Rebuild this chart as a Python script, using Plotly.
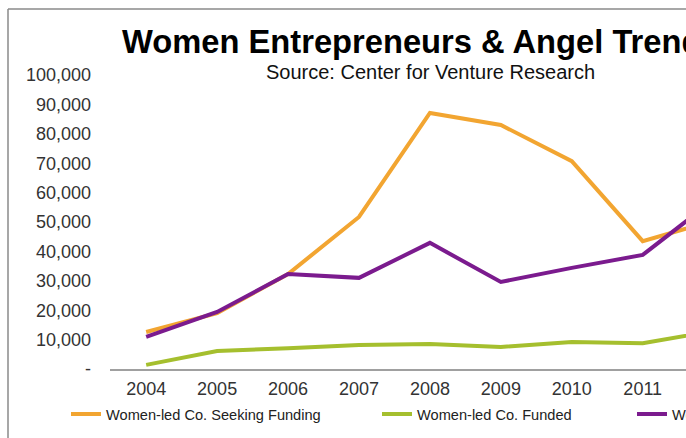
import plotly.graph_objects as go

years = [2004, 2005, 2006, 2007, 2008, 2009, 2010, 2011, 2012]
seeking = [12600, 19000, 32300, 51700, 87100, 83000, 70700, 43500, 50500]
funded = [1400, 6100, 7100, 8200, 8500, 7500, 9200, 8800, 12900]
angels = [10900, 19400, 32300, 31000, 42900, 29600, 34400, 38800, 57500]

y_ticks = [0, 10000, 20000, 30000, 40000, 50000, 60000, 70000, 80000, 90000, 100000]
y_ticktext = ["-", "10,000", "20,000", "30,000", "40,000", "50,000",
              "60,000", "70,000", "80,000", "90,000", "100,000"]

names = ["Women-led Co. Seeking Funding", "Women-led Co. Funded", "Women Angels"]
colors = ["#F2A531", "#A5BF2E", "#7B1B8E"]

W, H = 686, 438
L, R, T, B = 110, 0, 75, 69
pw, ph = W - L - R, H - T - B

def px(x):
    return (x - L) / pw

def py(y):
    return (H - B - y) / ph

fig = go.Figure()
series = [seeking, funded, angels]
legend_ids = ["legend", "legend2", "legend3"]
for s, n, c, lg in zip(series, names, colors, legend_ids):
    fig.add_trace(go.Scatter(x=years, y=s, name=n, mode="lines",
                             line=dict(color=c, width=4), legend=lg))

font_family = "Arial, Liberation Sans, sans-serif"
leg_common = dict(orientation="h", xanchor="left", yanchor="middle",
                  bgcolor="rgba(0,0,0,0)", font=dict(size=14.6, color="#222", family=font_family))
fig.update_layout(
    width=W, height=H,
    margin=dict(l=L, r=R, t=T, b=B, autoexpand=False),
    paper_bgcolor="white", plot_bgcolor="white",
    font=dict(family=font_family),
    showlegend=True,
    legend=dict(x=px(66), y=py(414), **leg_common),
    legend2=dict(x=px(377), y=py(414), **leg_common),
    legend3=dict(x=px(632), y=py(414), **leg_common),
    xaxis=dict(range=[2003.49, 2011.61], tickvals=years, ticktext=[str(y) for y in years],
               showline=True, linecolor="#A0A0A0", linewidth=1.5, showgrid=False,
               zeroline=False, ticks="", ticklabelstandoff=3,
               tickfont=dict(size=18, color="#333", family=font_family)),
    yaxis=dict(range=[0, 100000], tickvals=y_ticks, ticktext=y_ticktext,
               showline=False, showgrid=False, zeroline=False, ticks="",
               ticklabelstandoff=18,
               tickfont=dict(size=18, color="#333", family=font_family)),
    annotations=[
        dict(text="<b>Women Entrepreneurs & Angel Trends</b>", xref="paper", yref="paper",
             x=px(120), y=py(41), xanchor="left", yanchor="middle", showarrow=False,
             font=dict(size=32.7, color="#000", family=font_family)),
        dict(text="Source: Center for Venture Research", xref="paper", yref="paper",
             x=px(430), y=py(72), xanchor="center", yanchor="middle", showarrow=False,
             font=dict(size=20, color="#111", family=font_family)),
    ],
    shapes=[
        dict(type="line", xref="paper", yref="paper", x0=px(8), x1=px(690), y0=py(9), y1=py(9),
             line=dict(color="#8A8A8A", width=1.5)),
        dict(type="line", xref="paper", yref="paper", x0=px(8), x1=px(8), y0=py(9), y1=py(440),
             line=dict(color="#8A8A8A", width=1.5)),
    ],
)

fig.write_html("out.html")
